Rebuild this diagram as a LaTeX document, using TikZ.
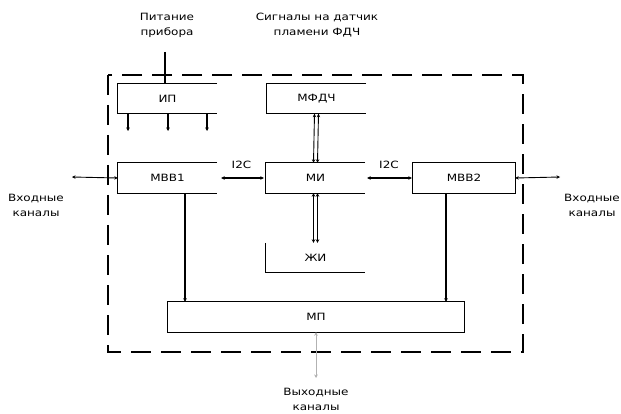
\documentclass[tikz,border=0pt]{standalone}
\usepackage{fontspec}
\setmainfont[FakeStretch=1.2]{DejaVu Sans}
\usetikzlibrary{arrows.meta}
\begin{document}
\begin{tikzpicture}[x=1pt,y=-1pt,
  every node/.style={font=\fontsize{10}{15}\selectfont, inner sep=0pt},
  blk/.style={minimum width=99pt, minimum height=30pt},
  ln/.style={line width=1.1pt},
  tip/.style={-{Stealth[length=3.5pt,width=3.5pt]}},
  tips/.style={{Stealth[length=3.5pt,width=3.5pt]}-{Stealth[length=3.5pt,width=3.5pt]}},
  txt/.style={align=center}]
\useasboundingbox (0,0) rectangle (621,414);
\fill[white] (0,0) rectangle (621,414);

% frame
\draw[ln, dash pattern=on 20pt off 10pt] (108,75) rectangle (523,352);

% external texts
\node[txt] (pwr) at (167,25) {Питание\\прибора};
\node[txt] (sig) at (317,25) {Сигналы на датчик\\пламени ФДЧ};
\node[txt] (inl) at (36,205) {Входные\\каналы};
\node[txt] (inr) at (592,205) {Входные\\каналы};
\node[txt] (outt) at (316,399) {Выходные\\каналы};

% blocks
\node[blk] (ip) at (167.5,98.5) {ИП};
\node[blk] (mfd) at (316.5,98.5) {МФДЧ};
\node[blk] (mvv1) at (167.5,178) {МВВ1};
\node[blk] (mi) at (315.5,178) {МИ};
\node[blk, minimum width=102pt] (mvv2) at (464,178) {МВВ2};
\node[blk, minimum height=29pt] (zi) at (315.5,257.5) {ЖИ};
\node[blk, minimum width=296pt] (mp) at (316,317) {МП};

% outlines (as seen)
\draw[ln] (ip.north east) -- (ip.north west) -- (ip.south west) -- (ip.south east);
\draw[ln] (mfd.north east) -- (mfd.north west) -- (mfd.south west) -- (mfd.south east);
\draw[ln] (mvv1.north east) -- (mvv1.north west) -- (mvv1.south west) -- (mvv1.south east);
\draw[ln] (mi.north east) -- (mi.north west) -- (mi.south west) -- (mi.south east);
\draw[ln] (mvv2.north west) rectangle (mvv2.south east);
\draw[ln] (zi.north west) -- (zi.south west) -- (zi.south east);
\draw[ln] (mp.north west) rectangle (mp.south east);

% power line
\coordinate (pw) at (165,52);
\draw[ln] (pw) -- (pw |- ip.north);

% ИП outputs
\coordinate (o1) at (128,131);
\coordinate (o2) at (168,131);
\coordinate (o3) at (207,131);
\draw[ln, tip] (o1 |- ip.south) -- (o1);
\draw[ln, tip] (o2 |- ip.south) -- (o2);
\draw[ln, tip] (o3 |- ip.south) -- (o3);

% double buses
\foreach \dx in {-2,2}{
  \draw[line width=0.9pt, tips] ([xshift=\dx pt]mfd.south) -- ([xshift=\dx pt]mi.north);
  \draw[line width=0.9pt, tips] ([xshift=\dx pt]mi.south) -- ([xshift=\dx pt]zi.north);
}

% I2C
\draw[ln, tips, shorten <=4pt, shorten >=2pt] (mvv1.east) -- node[above=9pt] {I2C} (mi.west);
\draw[ln, tips, shorten <=2pt, shorten >=1pt] (mi.east) -- node[above=9pt] {I2C} (mvv2.west);

% inputs
\coordinate (il) at (72,177);
\coordinate (ir) at (560,177);
\draw[line width=0.9pt, tips] (il) -- (mvv1.west);
\draw[line width=0.9pt, tips] (mvv2.east) -- (ir);

% to МП
\coordinate (v1) at (185,0);
\coordinate (v2) at (446,0);
\draw[ln, tip] (v1 |- mvv1.south) -- (v1 |- mp.north);
\draw[ln, tip] (v2 |- mvv2.south) -- (v2 |- mp.north);

% output
\coordinate (oc) at (316,378);
\draw[line width=0.6pt, gray!60, tips] (mp.south) -- (oc);
\end{tikzpicture}
\end{document}
